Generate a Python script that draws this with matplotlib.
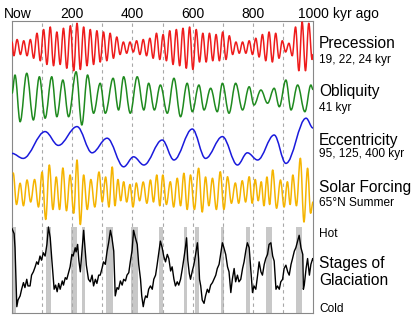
import numpy as np
import matplotlib
matplotlib.use("Agg")
import matplotlib.pyplot as plt
from matplotlib.path import Path
from matplotlib.patches import PathPatch
from matplotlib.transforms import blended_transform_factory

plt.rcParams['font.family'] = ['Liberation Sans', 'DejaVu Sans']

# ---- data (kyr ago, relative amplitude; + = up) ----
prec_t = [0, 6, 17, 28, 39, 50, 61, 72, 83, 94, 105, 116, 127, 138, 149, 160, 171, 182, 194, 205,
          216, 227, 238, 249, 260, 271, 282, 293, 304, 315, 326, 337, 348, 359, 370, 381, 392, 403,
          414, 425, 436, 447, 458, 469, 480, 491, 502, 513, 524, 535, 546, 557, 568, 579, 590, 601,
          612, 623, 634, 645, 656, 667, 678, 689, 700, 711, 722, 733, 744, 755, 766, 777, 788, 799,
          810, 821, 832, 843, 854, 865, 876, 887, 898, 909, 920, 931, 942, 953, 964, 975, 986, 997, 1000]
prec_v = [0.2, -0.35, 0.3, -0.3, 0.25, -0.35, 0.3, -0.45, 0.55, -0.55, 0.7, -0.7, 0.8, -0.75, 0.6, -0.7,
          0.75, -0.85, 0.85, -0.95, 0.95, -0.9, 0.8, -0.75, 0.7, -0.7, 0.65, -0.6, 0.6, -0.55, 0.55,
          -0.45, 0.4, -0.3, 0.2, -0.25, 0.2, -0.2, 0.25, -0.3, 0.3, -0.35, 0.35, -0.45, 0.55, -0.5,
          0.5, -0.55, 0.65, -0.7, 0.7, -0.75, 0.75, -0.85, 0.8, -0.9, 0.7, -0.6, 0.55, -0.6, 0.55,
          -0.55, 0.5, -0.55, 0.6, -0.5, 0.45, -0.3, 0.2, -0.25, 0.2, -0.25, 0.25, -0.3, 0.35, -0.4,
          0.5, -0.55, 0.6, -0.6, 0.55, -0.45, 0.25, -0.2, 0.15, -0.35, 0.8, -0.95, 1.0, -0.95, 0.95,
          -0.5, -0.3]

obl_t = [0, 10, 27, 49, 71, 91, 110, 132, 149, 169, 188, 213, 232, 251, 271, 293, 310, 336, 354, 371,
         393, 416, 438, 454, 473, 493, 516, 538, 560, 582, 599, 621, 638, 660, 682, 699, 721, 743,
         766, 788, 804, 827, 849, 871, 888, 910, 927, 949, 973, 993, 1000]
obl_v = [0.15, 0.88, -0.99, 0.95, -0.92, 0.81, -0.85, 0.81, -0.79, 0.68, -0.79, 1.01, -1.12, 0.88,
         -0.65, 0.55, -0.65, 0.75, -0.52, 0.81, -0.65, 0.81, -0.52, 0.55, -0.52, 0.48, -0.65, 0.75,
         -0.79, 0.55, -0.59, 0.48, -0.52, 0.35, -0.59, 0.55, -0.65, 0.55, -0.52, 0.41, -0.32, 0.28,
         -0.25, 0.35, -0.39, 0.68, -0.52, 0.48, -0.59, 0.48, 0.3]

ecc_t = [0, 37, 110, 154, 216, 266, 316, 371, 404, 438, 499, 538, 599, 643, 699, 749, 782, 816,
         871, 910, 977, 1000]
ecc_v = [-0.32, -0.57, 0.77, 0.08, 1.02, -0.29, 0.44, -0.99, -0.49, -0.9, 0.35, -0.65, 0.9, -0.57,
         0.52, -0.9, -0.29, -0.65, 0.6, -0.82, 1.44, 0.95]

sol_t = [4, 15, 27, 38, 50, 62, 75, 88, 100, 112, 124, 136, 147, 158, 169, 181, 193, 205, 216, 227,
         238, 250, 262, 275, 289, 300, 311, 322, 333, 342, 352, 361, 371, 381, 392, 402, 413, 424,
         436, 448, 460, 470, 481, 491, 501, 513, 526, 537, 549, 560, 571, 582, 593, 606, 620, 632,
         643, 654, 666, 679, 692, 704, 716, 729, 742, 753, 765, 776, 788, 798, 808, 818, 828, 837,
         847, 856, 866, 879, 892, 904, 915, 924, 933, 945, 958, 970, 982, 992, 1000]
sol_v = [0.76, -0.5, 0.35, -0.55, 0.48, -0.4, 0.5, -0.6, 0.8, -1.1, 1.08, -0.7, 0.6, -0.7, 0.96,
         -0.75, 0.68, -0.85, 1.28, -1.3, 0.68, -0.7, 0.5, -0.6, 0.8, -0.4, 0.6, -0.6, 1.0, -0.55,
         0.5, -0.35, 0.41, -0.4, 0.3, -0.6, 0.36, -0.35, 0.4, -0.45, 0.48, -0.4, 0.68, -0.55, 0.68,
         -0.5, 0.41, -0.6, 0.55, -0.55, 0.75, -0.7, 0.68, -0.7, 0.95, -0.8, 0.6, -0.55, 0.55, -0.7,
         0.81, -0.7, 0.61, -0.45, 0.36, -0.45, 0.45, -0.4, 0.61, -0.45, 0.5, -0.35, 0.41, -0.55,
         0.6, -0.5, 0.88, -0.65, 0.48, -0.6, 0.41, -0.5, 0.68, -0.55, 1.35, -1.2, 0.95, -0.85, -0.4]

glac_t = [0, 7, 10, 16, 20, 27, 32, 38, 43, 49, 53, 60, 65, 71, 77, 82, 87, 93, 98, 104, 110, 116,
          121, 127, 132, 140, 145, 150, 155, 160, 167, 171, 177, 182, 188, 193, 199, 203, 210, 213,
          218, 222, 227, 232, 238, 242, 247, 254, 260, 266, 271, 277, 282, 288, 293, 299, 304, 310,
          316, 321, 327, 332, 338, 343, 349, 354, 360, 366, 371, 377, 382, 388, 393, 399, 404, 410,
          416, 421, 427, 431, 436, 440, 444, 449, 454, 460, 466, 471, 477, 482, 488, 493, 499, 504,
          510, 516, 521, 527, 532, 538, 543, 549, 554, 560, 566, 571, 576, 580, 584, 589, 593, 599,
          604, 610, 616, 620, 623, 627, 632, 638, 643, 649, 654, 660, 666, 671, 677, 682, 688, 693,
          699, 704, 710, 716, 721, 727, 732, 738, 743, 749, 754, 760, 766, 771, 777, 782, 788, 793,
          799, 804, 810, 816, 821, 827, 832, 838, 843, 849, 854, 860, 866, 871, 877, 882, 888, 893,
          899, 904, 910, 916, 921, 927, 932, 938, 943, 949, 954, 960, 966, 968, 971, 977, 982, 988,
          993, 999, 1000]
glac_v = [0.98, 0.92, 0.75, 0.04, 0.12, 0.17, 0.25, 0.33, 0.27, 0.37, 0.29, 0.29, 0.42, 0.46, 0.52,
          0.58, 0.55, 0.65, 0.6, 0.69, 0.65, 0.79, 1.0, 0.87, 0.62, 0.25, 0.3, 0.22, 0.32, 0.25, 0.35,
          0.3, 0.39, 0.37, 0.45, 0.52, 0.67, 0.65, 0.75, 0.7, 0.79, 0.6, 0.46, 0.69, 0.96, 0.77, 0.54,
          0.37, 0.34, 0.42, 0.29, 0.37, 0.32, 0.42, 0.42, 0.5, 0.58, 0.55, 0.71, 0.81, 0.96, 0.87,
          0.71, 0.17, 0.27, 0.25, 0.35, 0.3, 0.37, 0.35, 0.42, 0.45, 0.58, 0.72, 0.96, 0.87, 0.79,
          0.55, 0.37, 0.17, 0.04, 0.12, 0.17, 0.15, 0.25, 0.29, 0.25, 0.37, 0.42, 0.54, 0.7, 0.83,
          0.75, 0.65, 0.58, 0.67, 0.62, 0.47, 0.52, 0.37, 0.29, 0.34, 0.3, 0.37, 0.5, 0.62, 0.75,
          0.87, 0.6, 0.44, 0.37, 0.47, 0.54, 0.67, 0.81, 0.62, 0.37, 0.29, 0.12, 0.08, 0.17, 0.25,
          0.21, 0.3, 0.33, 0.37, 0.42, 0.5, 0.55, 0.67, 0.81, 0.75, 0.67, 0.52, 0.46, 0.21, 0.37,
          0.5, 0.34, 0.42, 0.34, 0.37, 0.5, 0.58, 0.72, 0.81, 0.75, 0.5, 0.21, 0.29, 0.25, 0.42,
          0.58, 0.46, 0.42, 0.55, 0.62, 0.67, 0.79, 0.81, 0.65, 0.59, 0.25, 0.29, 0.25, 0.34, 0.37,
          0.5, 0.54, 0.46, 0.42, 0.55, 0.62, 0.71, 0.75, 0.83, 0.9, 0.75, 0.67, 0.25, 0.3, 0.5, 0.62,
          0.42, 0.55, 0.62, 0.6]

# interglacial periods (kyr ago)
warm_start = [0, 113, 197, 233, 311, 396, 487, 571, 607, 696, 776, 844, 944]
warm_end = [13, 129, 217, 242, 336, 418, 502, 580, 620, 704, 791, 864, 962]

tick_kyr = [0, 200, 400, 600, 800, 1000]
tick_lbl = ['Now', '200', '400', '600', '800', '1000']


def smooth_line(ax, t, y, color, lw=1.1):
    # bezier through the extrema, flat tangent at each one
    verts = [(t[0], y[0])]
    codes = [Path.MOVETO]
    for i in range(1, len(t)):
        dx = (t[i] - t[i - 1]) * 0.36
        verts += [(t[i - 1] + dx, y[i - 1]), (t[i] - dx, y[i]), (t[i], y[i])]
        codes += [Path.CURVE4] * 3
    ax.add_patch(PathPatch(Path(verts, codes), fill=False, edgecolor=color, lw=lw,
                           capstyle='round', joinstyle='round', zorder=3))


W, H = 420, 328
fig = plt.figure(figsize=(W / 100, H / 100), dpi=100)
ax = fig.add_axes([12 / W, (H - 313) / H, 301 / W, 292 / H])
ax.set_xlim(0, 1000)
ax.set_ylim(313, 21)   # rows, top of chart = 21

for a, b in zip(warm_start, warm_end):
    ax.axvspan(a, b, ymin=0, ymax=(313 - 227) / 292, color='#c8c8c8', lw=0, zorder=1)

for k in range(100, 1000, 100):
    ax.axvline(k, color='#a8a8a8', lw=0.8, ls=(0, (3, 3)), zorder=2)

smooth_line(ax, prec_t, 47 - 25 * np.array(prec_v), '#ee1c1c')
smooth_line(ax, obl_t, 97 - 25 * np.array(obl_v), '#1f8a1f')
smooth_line(ax, ecc_t, 147 - 20 * np.array(ecc_v), '#1a1adc')
smooth_line(ax, sol_t, 192 - 25 * np.array(sol_v), '#f5b400')
ax.plot(glac_t, 310 - 83 * np.array(glac_v), color='black', lw=1.0, zorder=3)

ax.set_xticks([])
ax.set_yticks([])
for s in ax.spines.values():
    s.set_color('#888888')
    s.set_linewidth(0.8)

tr = blended_transform_factory(ax.transData, fig.transFigure)
for k, lbl in zip(tick_kyr, tick_lbl):
    off = 20 if lbl == 'Now' else 0
    ax.text(k + off, 1 - 18 / H, lbl, transform=tr, ha='center', va='baseline', fontsize=10,
            clip_on=False)
fig.text(333 / W, 1 - 18 / H, 'kyr ago', ha='left', va='baseline', fontsize=10)

big = [('Precession', 48), ('Obliquity', 96), ('Eccentricity', 145), ('Solar Forcing', 191.7),
       ('Stages of', 268), ('Glaciation', 285)]
small = [('19, 22, 24 kyr', 63), ('41 kyr', 110.7), ('95, 125, 400 kyr', 157),
         ('65°N Summer', 206), ('Hot', 236.7), ('Cold', 311.7)]
for txt, y in big:
    fig.text(319 / W, 1 - y / H, txt, ha='left', va='baseline', fontsize=11.2)
for txt, y in small:
    fig.text(319 / W, 1 - y / H, txt, ha='left', va='baseline', fontsize=8.6)

fig.savefig('out.png', dpi=100)
